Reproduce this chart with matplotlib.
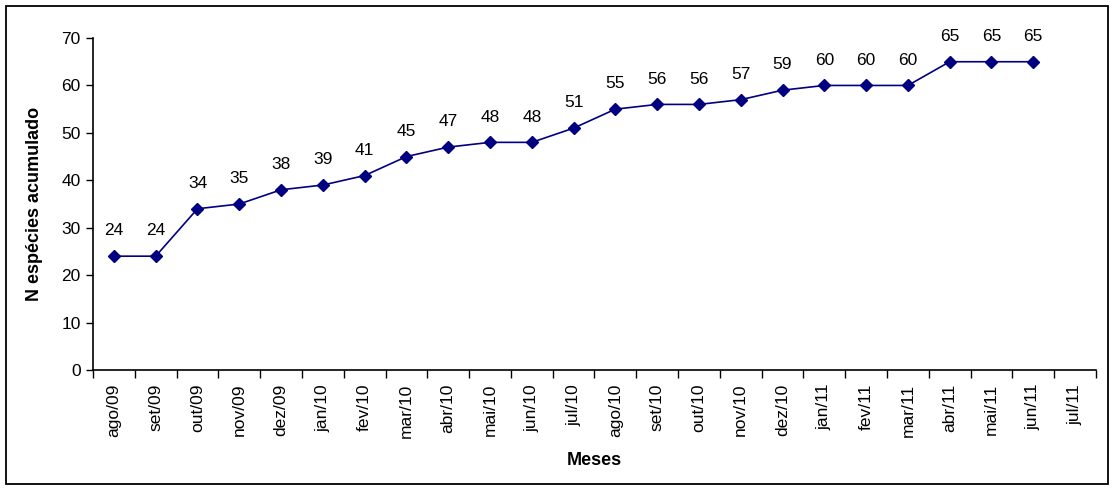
import numpy as np
import matplotlib
matplotlib.use("Agg")
import matplotlib.pyplot as plt
from matplotlib.patches import Rectangle

plt.rcParams["font.family"] = ["Liberation Sans", "DejaVu Sans"]

months = ["ago/09", "set/09", "out/09", "nov/09", "dez/09", "jan/10", "fev/10", "mar/10",
          "abr/10", "mai/10", "jun/10", "jul/10", "ago/10", "set/10", "out/10", "nov/10",
          "dez/10", "jan/11", "fev/11", "mar/11", "abr/11", "mai/11", "jun/11", "jul/11"]
n_species = [24, 24, 34, 35, 38, 39, 41, 45, 47, 48, 48, 51, 55, 56, 56, 57,
             59, 60, 60, 60, 65, 65, 65]

fig = plt.figure(figsize=(11.14, 4.9), dpi=100)
ax = fig.add_axes([0.0835, 0.2449, 0.9003, 0.6775])

x = np.arange(len(n_species))
ax.plot(x, n_species, color="#000080", lw=1.2, marker="D", ms=6, mfc="#000080", mec="#000080")
for xi, v in zip(x, n_species):
    ax.annotate(f"{v}", (xi, v), xytext=(0, 15), textcoords="offset points",
                ha="center", va="baseline", fontsize=12.5)

ax.set_xlim(-0.5, len(months) - 0.5)
ax.set_ylim(0, 70)
ax.set_yticks(range(0, 71, 10))
ax.tick_params(axis="y", labelsize=12.5, direction="out", length=5, width=1, pad=4)

# category labels centred, tick marks on the boundaries
ax.set_xticks(np.arange(len(months)))
ax.set_xticklabels(months, rotation=90, fontsize=12.5)
ax.tick_params(axis="x", which="major", length=0, pad=10)
ax.set_xticks(np.arange(-0.5, len(months)), minor=True)
ax.tick_params(axis="x", which="minor", direction="out", length=6, width=1)

for s in ["top", "right"]:
    ax.spines[s].set_visible(False)
for s in ["left", "bottom"]:
    ax.spines[s].set_linewidth(1.2)

ax.set_xlabel("Meses", fontsize=13, fontweight="bold", labelpad=10)
ax.set_ylabel("N espécies acumulado", fontsize=13, fontweight="bold", labelpad=13)

fig.patches.append(Rectangle((6 / 1114, 6 / 490), 1102 / 1114, 478 / 490,
                             transform=fig.transFigure, fill=False, edgecolor="black", lw=1.3))

fig.savefig("out.png", dpi=100)
